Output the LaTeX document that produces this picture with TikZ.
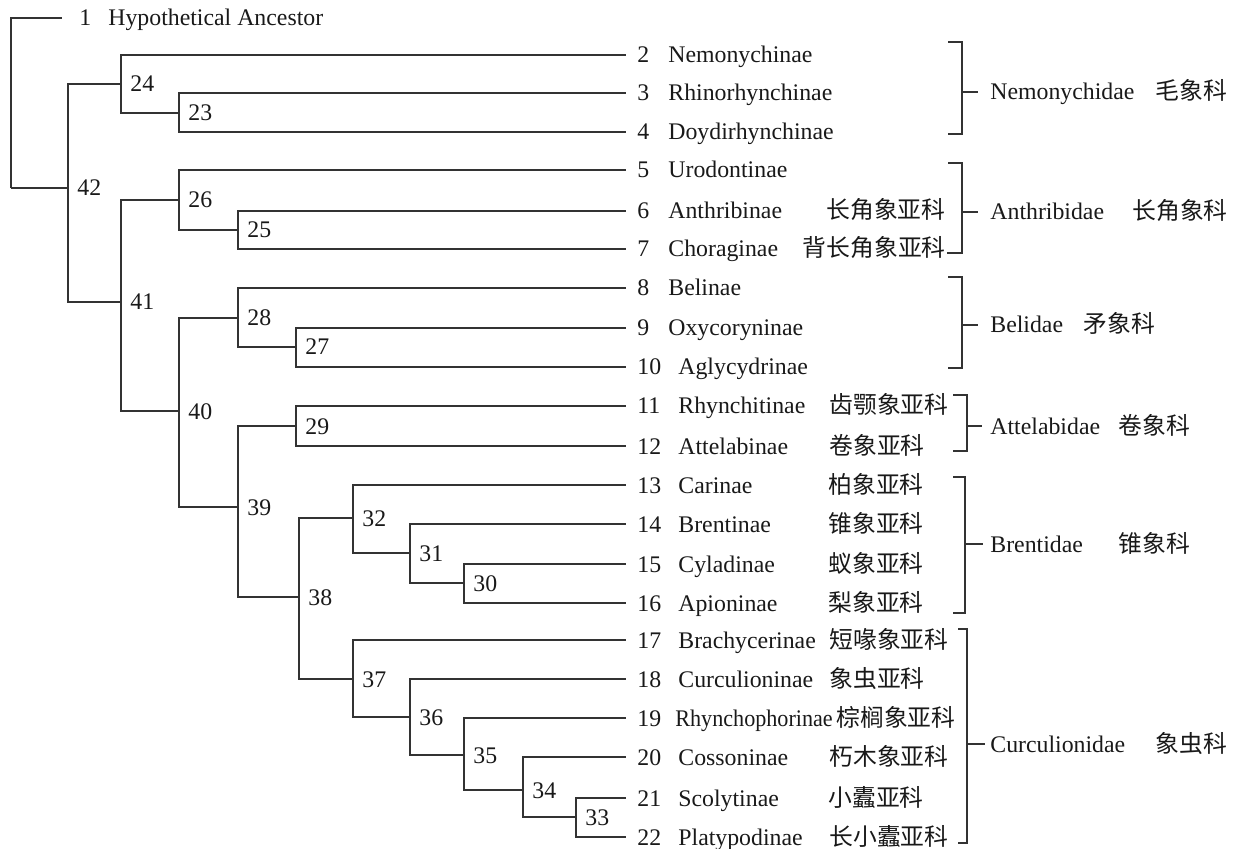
\documentclass[tikz,border=0pt]{standalone}
\usepackage{fontspec}
\setmainfont{Liberation Serif}
\newfontfamily\cjk{Noto Sans CJK SC}
\definecolor{linec}{gray}{0.2}
\definecolor{txtc}{gray}{0.1}
\begin{document}
\begin{tikzpicture}[x=0.5pt,y=-0.5pt,
  tree/.style={draw=linec,line width=1pt},
  lbl/.style={anchor=base west,inner sep=0pt,text=txtc,font=\fontsize{11.9}{14}\selectfont},
  lble/.style={anchor=base east,inner sep=0pt,text=txtc,font=\fontsize{11.9}{14}\selectfont\cjk},
  cn/.style={anchor=base west,inner sep=0pt,text=txtc,font=\fontsize{11.9}{14}\selectfont\cjk}]
\useasboundingbox (0,0) rectangle (1234,849);

% ---------- leaves (line ends) ----------
\coordinate (l1) at (62,18);
\coordinate (l2) at (626,55);
\coordinate (l3) at (626,93);
\coordinate (l4) at (626,132);
\coordinate (l5) at (626,170);
\coordinate (l6) at (626,211);
\coordinate (l7) at (626,249);
\coordinate (l8) at (626,288);
\coordinate (l9) at (626,328);
\coordinate (l10) at (626,367);
\coordinate (l11) at (626,406);
\coordinate (l12) at (626,446);
\coordinate (l13) at (626,485);
\coordinate (l14) at (626,524);
\coordinate (l15) at (626,564);
\coordinate (l16) at (626,603);
\coordinate (l17) at (626,640);
\coordinate (l18) at (626,679);
\coordinate (l19) at (626,718);
\coordinate (l20) at (626,757);
\coordinate (l21) at (626,798);
\coordinate (l22) at (626,837);

% ---------- internal nodes ----------
\coordinate (root) at (11,188);
\coordinate (c23) at (179,113);
\coordinate (c24) at (121,84);
\coordinate (c25) at (238,230);
\coordinate (c26) at (179,200);
\coordinate (c27) at (296,347);
\coordinate (c28) at (238,318);
\coordinate (c29) at (296,426);
\coordinate (c30) at (464,583);
\coordinate (c31) at (410,553);
\coordinate (c32) at (353,518);
\coordinate (c33) at (576,817);
\coordinate (c34) at (523,790);
\coordinate (c35) at (464,755);
\coordinate (c36) at (410,717);
\coordinate (c37) at (353,679);
\coordinate (c38) at (299,597);
\coordinate (c39) at (238,507);
\coordinate (c40) at (179,411);
\coordinate (c41) at (121,302);
\coordinate (c42) at (68,188);

% ---------- tree ----------
\draw[tree] (root) |- (l1)  (root) |- (c42);
\draw[tree] (c42) |- (c24)  (c42) |- (c41);
\draw[tree] (c24) |- (l2)   (c24) |- (c23);
\draw[tree] (c23) |- (l3)   (c23) |- (l4);
\draw[tree] (c41) |- (c26)  (c41) |- (c40);
\draw[tree] (c26) |- (l5)   (c26) |- (c25);
\draw[tree] (c25) |- (l6)   (c25) |- (l7);
\draw[tree] (c40) |- (c28)  (c40) |- (c39);
\draw[tree] (c28) |- (l8)   (c28) |- (c27);
\draw[tree] (c27) |- (l9)   (c27) |- (l10);
\draw[tree] (c39) |- (c29)  (c39) |- (c38);
\draw[tree] (c29) |- (l11)  (c29) |- (l12);
\draw[tree] (c38) |- (c32)  (c38) |- (c37);
\draw[tree] (c32) |- (l13)  (c32) |- (c31);
\draw[tree] (c31) |- (l14)  (c31) |- (c30);
\draw[tree] (c30) |- (l15)  (c30) |- (l16);
\draw[tree] (c37) |- (l17)  (c37) |- (c36);
\draw[tree] (c36) |- (l18)  (c36) |- (c35);
\draw[tree] (c35) |- (l19)  (c35) |- (c34);
\draw[tree] (c34) |- (l20)  (c34) |- (c33);
\draw[tree] (c33) |- (l21)  (c33) |- (l22);

% ---------- internal node labels ----------
\foreach \n in {23,...,42}{
  \node[lbl] (t\n) at ([shift={(9,8)}]c\n) {\n};
}

% ---------- leaf labels ----------
\node[lbl] (n1) at (79,26) {1};
\node[lbl] (s1) at (108,26) {Hypothetical Ancestor};
\foreach \k/\nm in {2/Nemonychinae,3/Rhinorhynchinae,4/Doydirhynchinae,5/Urodontinae,6/Anthribinae,7/Choraginae,8/Belinae,9/Oxycoryninae}{
  \node[lbl] (n\k) at ([shift={(11,8)}]l\k) {\k};
  \node[lbl] (s\k) at ([shift={(42,8)}]l\k) {\nm};
}
\foreach \k/\nm in {10/Aglycydrinae,11/Rhynchitinae,12/Attelabinae,13/Carinae,14/Brentinae,15/Cyladinae,16/Apioninae,17/Brachycerinae,18/Curculioninae,20/Cossoninae,21/Scolytinae,22/Platypodinae}{
  \node[lbl] (n\k) at ([shift={(11,8)}]l\k) {\k};
  \node[lbl] (s\k) at ([shift={(52,8)}]l\k) {\nm};
}
\node[lbl] (n19) at ([shift={(11,8)}]l19) {19};
\node[lbl] (s19) at ([shift={(49,8)}]l19) {\scalebox{0.93}[1]{Rhynchophorinae}};

% Chinese subfamily names
\node[cn] (z6) at ([shift={(200,8)}]l6) {长角象亚科};
\node[lble] (z7) at ([shift={(320,8)}]l7) {背长角象亚科};
\node[cn] (z11) at ([shift={(203,8)}]l11) {齿颚象亚科};
\node[cn] (z12) at ([shift={(203,8)}]l12) {卷象亚科};
\node[cn] (z13) at ([shift={(202,8)}]l13) {柏象亚科};
\node[cn] (z14) at ([shift={(202,8)}]l14) {锥象亚科};
\node[cn] (z15) at ([shift={(202,8)}]l15) {蚁象亚科};
\node[cn] (z16) at ([shift={(202,8)}]l16) {梨象亚科};
\node[cn] (z17) at ([shift={(203,8)}]l17) {短喙象亚科};
\node[cn] (z18) at ([shift={(203,8)}]l18) {象虫亚科};
\node[cn] (z19) at ([shift={(210,8)}]l19) {棕榈象亚科};
\node[cn] (z20) at ([shift={(203,8)}]l20) {朽木象亚科};
\node[cn] (z21) at ([shift={(202,8)}]l21) {小蠹亚科};
\node[cn] (z22) at ([shift={(203,8)}]l22) {长小蠹亚科};

% ---------- family brackets ----------
% Nemonychidae
\coordinate (b1t) at (962,42);  \coordinate (b1b) at (962,134); \coordinate (b1m) at (962,92);
\draw[tree] ([shift={(-14,0)}]b1t) -- (b1t) -- (b1b) -- ([shift={(-14,0)}]b1b);
\node[lbl] (f1) at (990,100) {Nemonychidae};
\node[cn] (g1) at (1155,100) {毛象科};
\draw[tree] (b1m) -- ([shift={(-12,0)}]f1.base west |- b1m);
% Anthribidae
\coordinate (b2t) at (962,163); \coordinate (b2b) at (962,253); \coordinate (b2m) at (962,212);
\draw[tree] ([shift={(-14,0)}]b2t) -- (b2t) -- (b2b) -- ([shift={(-15,0)}]b2b);
\node[lbl] (f2) at (990,220) {Anthribidae};
\node[cn] (g2) at (1132,220) {长角象科};
\draw[tree] (b2m) -- ([shift={(-12,0)}]f2.base west |- b2m);
% Belidae
\coordinate (b3t) at (962,277); \coordinate (b3b) at (962,368); \coordinate (b3m) at (962,325);
\draw[tree] ([shift={(-14,0)}]b3t) -- (b3t) -- (b3b) -- ([shift={(-14,0)}]b3b);
\node[lbl] (f3) at (990,333) {Belidae};
\node[cn] (g3) at (1083,333) {矛象科};
\draw[tree] (b3m) -- ([shift={(-12,0)}]f3.base west |- b3m);
% Attelabidae
\coordinate (b4t) at (967,395); \coordinate (b4b) at (967,451); \coordinate (b4m) at (967,426);
\draw[tree] ([shift={(-14,0)}]b4t) -- (b4t) -- (b4b) -- ([shift={(-14,0)}]b4b);
\node[lbl] (f4) at (990,434) {Attelabidae};
\node[cn] (g4) at (1118,434) {卷象科};
\draw[tree] (b4m) -- ([shift={(-8,0)}]f4.base west |- b4m);
% Brentidae
\coordinate (b5t) at (965,477); \coordinate (b5b) at (965,613); \coordinate (b5m) at (965,544);
\draw[tree] ([shift={(-12,0)}]b5t) -- (b5t) -- (b5b) -- ([shift={(-12,0)}]b5b);
\node[lbl] (f5) at (990,552) {Brentidae};
\node[cn] (g5) at (1118,552) {锥象科};
\draw[tree] (b5m) -- ([shift={(-7,0)}]f5.base west |- b5m);
% Curculionidae
\coordinate (b6t) at (967,629); \coordinate (b6b) at (967,843); \coordinate (b6m) at (967,744);
\draw[tree] ([shift={(-9,0)}]b6t) -- (b6t) -- (b6b) -- ([shift={(-9,0)}]b6b);
\node[lbl] (f6) at (990,752) {Curculionidae};
\node[cn] (g6) at (1155,752) {象虫科};
\draw[tree] (b6m) -- ([shift={(-5,0)}]f6.base west |- b6m);
\end{tikzpicture}
\end{document}
